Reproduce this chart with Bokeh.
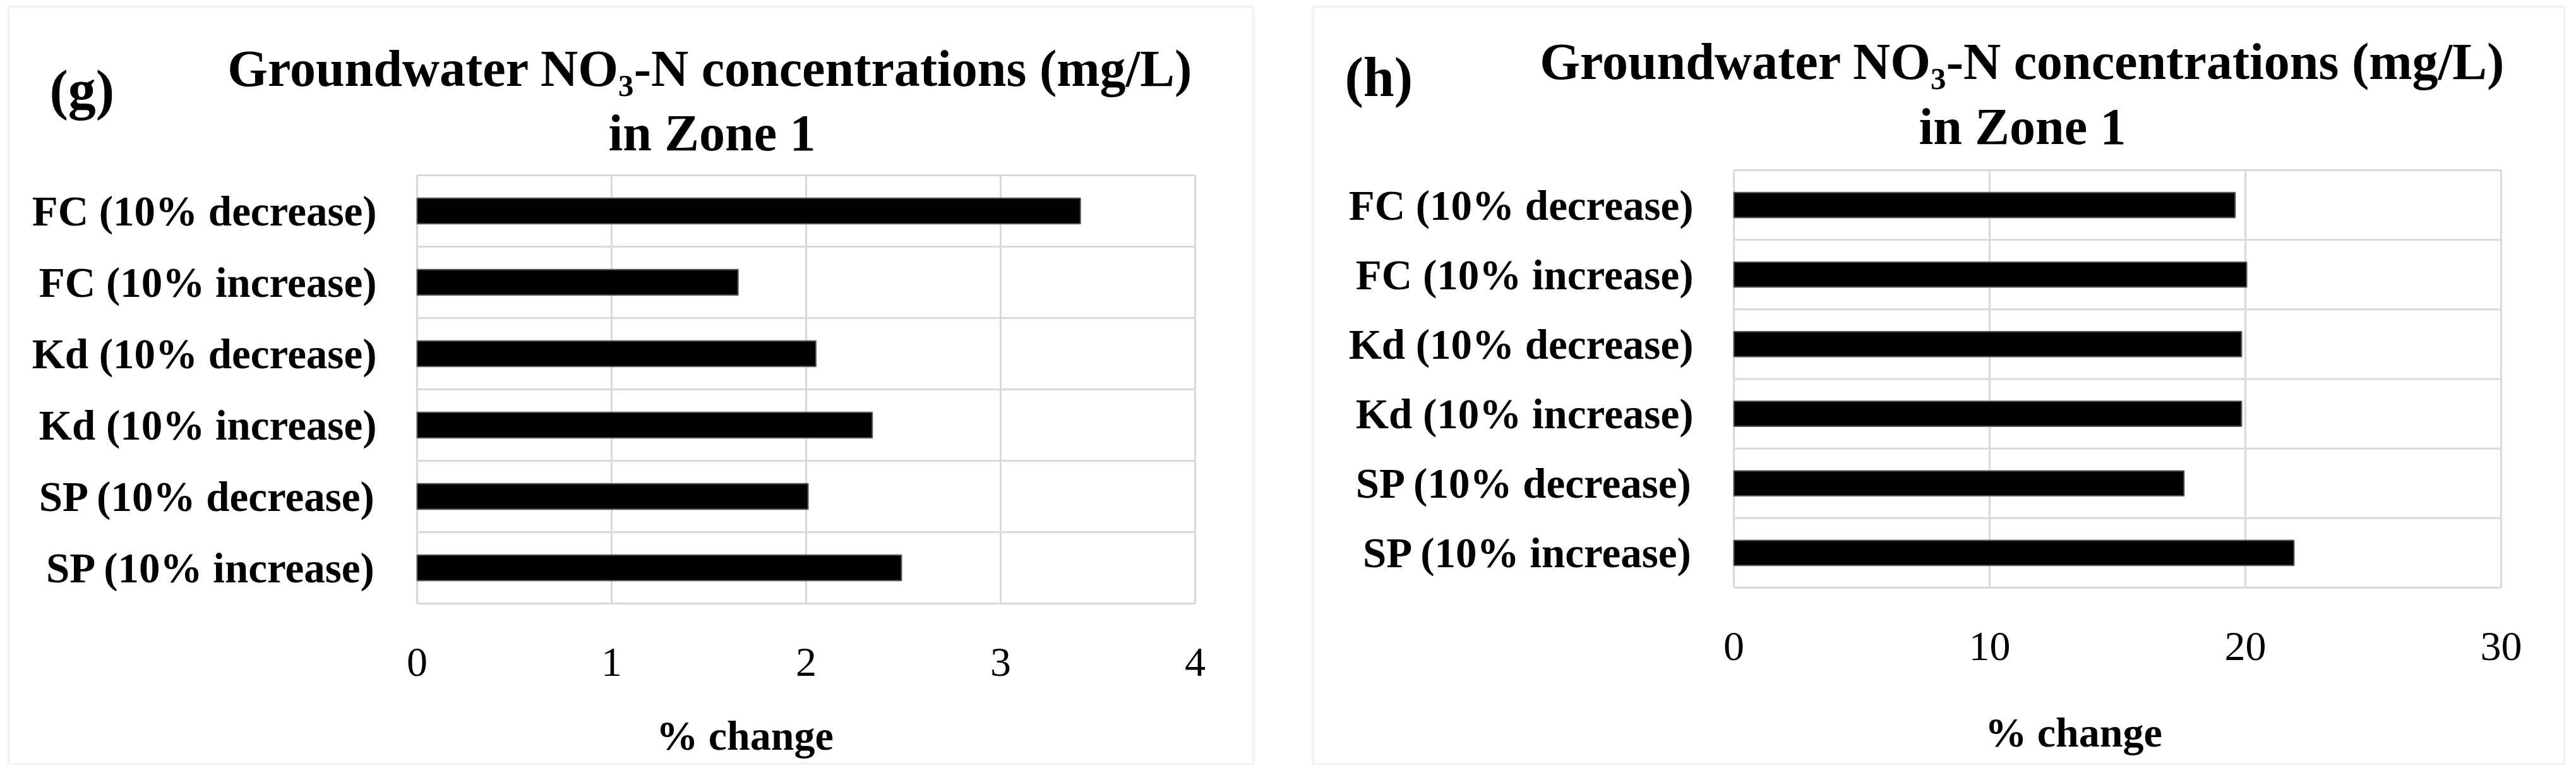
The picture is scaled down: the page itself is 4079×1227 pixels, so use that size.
from bokeh.plotting import figure
from bokeh.models import Range1d, FixedTicker, Label, BoxAnnotation
from bokeh.layouts import row
from bokeh.embed import file_html
from bokeh.resources import INLINE

# ---------------- data ----------------
categories = ["FC (10% decrease)", "FC (10% increase)", "Kd (10% decrease)",
              "Kd (10% increase)", "SP (10% decrease)", "SP (10% increase)"]
g_values = [3.41, 1.65, 2.05, 2.34, 2.01, 2.49]
h_values = [19.6, 20.05, 19.85, 19.85, 17.6, 21.9]
g_xticks = [0, 1, 2, 3, 4]
h_xticks = [0, 10, 20, 30]
title_line1 = "Groundwater NO\u2083-N concentrations (mg/L)"
title_line2 = "in Zone 1"
x_label = "% change"

FONT = "Liberation Serif"
GRID = "#d9d9d9"
n = len(categories)
ypos = [n - i - 0.5 for i in range(n)]
H = 1211


def span_range(d0, d1, p0, p1, total):
    """Range so that data d0..d1 falls on canvas pixels p0..p1."""
    k = (p1 - p0) / (d1 - d0)
    start = d0 - p0 / k
    return Range1d(start, start + total / k)


def make_panel(values, xticks, tag, W, ox, plot_px, title_xy, title2_xy, tag_xy,
               xlabel_xy, box):
    # plot_px: page coords of plot area (left, right, top, bottom)
    l, r, t, b = plot_px
    xr = span_range(0, xticks[-1], l - ox, r - ox, W)
    yr = span_range(0, n, H - (b - 8), H - (t - 8), H)
    p = figure(width=W, height=H, output_backend="svg", toolbar_location=None,
               x_range=xr, y_range=yr, min_border=0,
               background_fill_color="white", border_fill_color="white")
    p.outline_line_color = None
    p.xgrid.visible = False
    p.ygrid.visible = False

    # plot-area grid (vertical at ticks, horizontal at category boundaries)
    p.segment(x0=xticks, x1=xticks, y0=0, y1=n, line_color=GRID, line_width=3)
    p.segment(x0=0, x1=xticks[-1], y0=list(range(n + 1)), y1=list(range(n + 1)),
              line_color=GRID, line_width=3)

    p.hbar(y=ypos, left=0, right=values, height=0.36, fill_color="black",
           line_color="#5a5a5a", line_width=2)

    xa = p.xaxis[0]
    xa.fixed_location = 0
    xa.ticker = FixedTicker(ticks=xticks)
    xa.axis_line_color = None
    xa.major_tick_line_color = None
    xa.minor_tick_line_color = None
    xa.major_label_text_font = FONT
    xa.major_label_text_font_size = "66px"
    xa.major_label_text_color = "black"
    xa.major_label_standoff = 65

    ya = p.yaxis[0]
    ya.fixed_location = 0
    ya.ticker = FixedTicker(ticks=ypos)
    ya.major_label_overrides = {y: c for y, c in zip(ypos, categories)}
    ya.axis_line_color = None
    ya.major_tick_line_color = None
    ya.minor_tick_line_color = None
    ya.major_label_text_font = FONT
    ya.major_label_text_font_size = "67px"
    ya.major_label_text_font_style = "bold"
    ya.major_label_text_color = "black"
    ya.major_label_standoff = 58

    def scr(px, py):
        return px - ox, H - (py - 8)

    bl, bb = scr(box[0], box[3])
    br, bt = scr(box[1], box[2])
    p.add_layout(BoxAnnotation(left=bl, right=br, bottom=bb, top=bt,
                               left_units="screen", right_units="screen",
                               bottom_units="screen", top_units="screen",
                               fill_alpha=0, line_color="#d6d6d6", line_width=4))

    def lab(xy, text, size, align="center", style="bold"):
        sx, sy = scr(*xy)
        p.add_layout(Label(x=sx, y=sy, x_units="screen", y_units="screen", text=text,
                           text_font=FONT, text_font_size=size, text_font_style=style,
                           text_align=align, text_baseline="alphabetic",
                           text_color="black"))

    lab(title_xy, title_line1, "82px")
    lab(title2_xy, title_line2, "82px")
    lab(tag_xy, tag, "88px", align="left")
    lab(xlabel_xy, x_label, "66px")
    return p


# left panel (page coordinates)
p1 = make_panel(g_values, g_xticks, "(g)", 2040, 8, (668, 1900, 285, 963),
                title_xy=(1132, 116), title2_xy=(1135, 218), tag_xy=(86, 150),
                xlabel_xy=(1187, 1172), box=(21, 1992, 18, 1217))
# right panel
p2 = make_panel(h_values, h_xticks, "(h)", 2023, 2048, (2753, 3968, 277, 938),
                title_xy=(3210, 105), title2_xy=(3210, 208), tag_xy=(2137, 130),
                xlabel_xy=(3291, 1167), box=(2087, 4068, 18, 1217))

layout = row(p1, p2)
open("out.html", "w").write(file_html(layout, INLINE))
